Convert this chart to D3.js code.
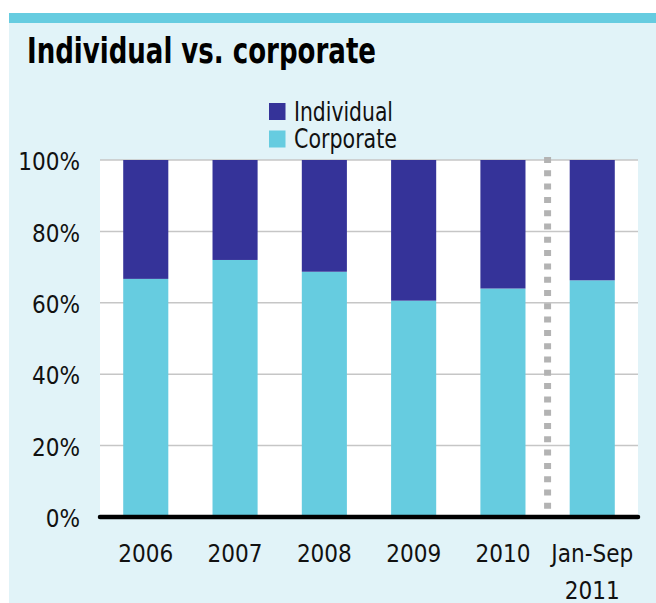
<!DOCTYPE html>
<html>
<head>
<meta charset="utf-8">
<script src="https://cdn.jsdelivr.net/npm/d3@7"></script>
<style>
  html, body { margin: 0; padding: 0; background: #ffffff; }
  svg { display: block; }
  .tick-label { font-family: "Liberation Sans Narrow", "DejaVu Sans Condensed", "Liberation Sans", sans-serif; fill: #111; }
</style>
</head>
<body>
<svg id="chart" width="656" height="603"></svg>
<script>
// Share of issuance by investor type, per period (percent)
const categories = ["2006", "2007", "2008", "2009", "2010", "Jan-Sep 2011"];
const corporate  = [66.7, 72.0, 68.7, 60.6, 64.0, 66.3];
const individual = [33.3, 28.0, 31.3, 39.4, 36.0, 33.7];
const yTicks = [0, 20, 40, 60, 80, 100];
const seriesNames = ["Individual", "Corporate"];
const legendWidths = { Individual: 99, Corporate: 103 };

const colors = { Individual: "#353399", Corporate: "#66cce0" };

const svg = d3.select("#chart");
const W = 656, H = 603;
const plot = { left: 100, right: 638, top: 160, bottom: 517 };

// Panel background and accent strip
svg.append("rect").attr("x", 9).attr("y", 23).attr("width", W - 9).attr("height", H - 23).attr("fill", "#e1f3f8");
svg.append("rect").attr("x", 9).attr("y", 13).attr("width", W - 9).attr("height", 10).attr("fill", "#66cce0");

// Title
svg.append("text")
  .attr("x", 27).attr("y", 63)
  .attr("textLength", 349).attr("lengthAdjust", "spacingAndGlyphs")
  .style("font-family", "'Liberation Sans Narrow', 'DejaVu Sans Condensed', sans-serif")
  .style("font-weight", "bold").style("font-size", "35px").attr("fill", "#000")
  .text("Individual vs. corporate");

// Scales
const x = d3.scaleBand().domain(categories).range([plot.left, plot.right])
  .paddingInner(0.495).paddingOuter(0.26);
const y = d3.scaleLinear().domain([0, 100]).range([plot.bottom, plot.top]);

// Plot area
svg.append("rect").attr("x", plot.left).attr("y", plot.top)
  .attr("width", plot.right - plot.left).attr("height", plot.bottom - plot.top).attr("fill", "#ffffff");

// Gridlines
svg.append("g").selectAll("line").data(yTicks.filter(d => d > 0)).join("line")
  .attr("x1", plot.left).attr("x2", plot.right)
  .attr("y1", d => y(d)).attr("y2", d => y(d))
  .attr("stroke", "#c6c6c6").attr("stroke-width", 1.5);

// Stacked bars: corporate at the bottom, individual on top
const rows = categories.map((c, i) => ({ cat: c, Corporate: corporate[i], Individual: individual[i] }));
const stack = d3.stack().keys(["Corporate", "Individual"])(rows);
svg.append("g").selectAll("g").data(stack).join("g")
  .attr("fill", s => colors[s.key])
  .selectAll("rect").data(s => s).join("rect")
  .attr("x", d => x(d.data.cat))
  .attr("width", x.bandwidth())
  .attr("y", d => y(Math.min(d[1], 100)))
  .attr("height", d => y(d[0]) - y(Math.min(d[1], 100)));

// Dotted separator before the partial-year period
const sepX = (x("2010") + x.bandwidth() + x("Jan-Sep 2011")) / 2;
svg.append("line")
  .attr("x1", sepX).attr("x2", sepX).attr("y1", 157).attr("y2", plot.bottom - 3)
  .attr("stroke", "#b3b3b3").attr("stroke-width", 7).attr("stroke-dasharray", "6,7.3");

// Baseline
svg.append("line").attr("x1", plot.left).attr("x2", plot.right)
  .attr("y1", y(0)).attr("y2", y(0))
  .attr("stroke", "#000").attr("stroke-width", 4.5).attr("stroke-linecap", "round");

// Y axis labels
const yAxis = d3.axisLeft(y).tickValues(yTicks).tickFormat(d => d + "%").tickSize(0).tickPadding(0);
const gy = svg.append("g").attr("transform", "translate(80,0)").call(yAxis);
gy.select(".domain").remove();
gy.selectAll("text").attr("class", "tick-label").attr("dy", "0.4em")
  .style("font-size", "24px").attr("fill", "#111");

// X axis labels (wrapping the two-word period)
const xAxis = d3.axisBottom(x).tickSize(0).tickPadding(0).tickFormat(() => "");
const gx = svg.append("g").attr("transform", `translate(0,${plot.bottom})`).call(xAxis);
gx.select(".domain").remove();
gx.selectAll(".tick text").each(function(d) {
  const t = d3.select(this).attr("class", "tick-label").attr("y", 45).attr("dy", null)
    .style("font-size", "24px").attr("fill", "#111");
  const parts = d.split(" ");
  parts.forEach((p, i) => t.append("tspan").attr("x", 0).attr("dy", i === 0 ? 0 : 36.5).text(p));
});

// Legend
const legend = svg.append("g").attr("transform", "translate(269,103)");
seriesNames.forEach((name, i) => {
  const g = legend.append("g").attr("transform", `translate(0,${i * 27.5})`);
  g.append("rect").attr("width", 16.5).attr("height", 17).attr("fill", colors[name]);
  g.append("text").attr("class", "tick-label").attr("x", 25).attr("y", 17.5)
    .attr("textLength", legendWidths[name]).attr("lengthAdjust", "spacingAndGlyphs")
    .style("font-size", "26px").attr("fill", "#111").text(name);
});
</script>
</body>
</html>
